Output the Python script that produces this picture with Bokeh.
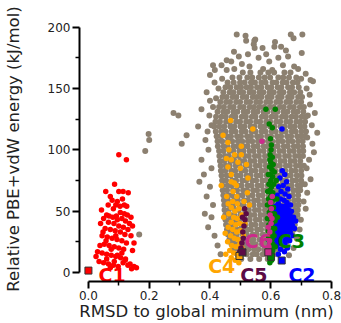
from bokeh.plotting import figure
from bokeh.models import FixedTicker, PrintfTickFormatter
from bokeh.core.properties import value
from bokeh.embed import file_html
from bokeh.resources import INLINE

# ---------------- data ----------------
# dense grey cloud, one row per energy level: (energy, RMSD values in 1/1000 nm)
gray_rows = [
    (163, [508, 533, 566, 592, 611, 645]),
    (159, [474, 497, 523, 539, 561, 580, 598, 625, 641, 660, 684]),
    (155, [458, 478, 499, 514, 535, 548, 569, 583, 606, 618, 639, 652, 673, 688]),
    (151, [451, 467, 488, 502, 521, 535, 555, 569, 590, 602, 623, 635, 657, 670, 692]),
    (147, [444, 465, 477, 497, 509, 530, 543, 563, 576, 596, 610, 630, 642, 663, 677, 697]),
    (143, [441, 455, 475, 487, 508, 520, 541, 554, 570, 590, 603, 624, 636, 657, 669, 690, 703]),
    (139, [434, 453, 466, 486, 499, 520, 532, 552, 565, 585, 598, 618, 631, 651, 664, 684, 700]),
    (135, [430, 446, 466, 478, 499, 511, 531, 545, 563, 578, 597, 610, 630, 643, 663, 676, 696, 709]),
    (131, [425, 444, 457, 477, 490, 511, 523, 543, 556, 576, 589, 609, 622, 642, 655, 675, 688, 707]),
    (127, [420, 438, 452, 472, 484, 505, 518, 538, 550, 571, 584, 603, 617, 637, 650, 669, 683, 702, 715]),
    (123, [418, 433, 453, 466, 486, 499, 519, 532, 552, 565, 585, 598, 618, 631, 651, 664, 684, 697, 713]),
    (119, [414, 431, 447, 467, 480, 500, 513, 533, 546, 566, 579, 598, 612, 632, 645, 664, 678, 697, 711]),
    (115, [419, 437, 451, 471, 484, 504, 517, 537, 550, 570, 583, 603, 616, 636, 649, 669, 682, 701, 716]),
    (111, [422, 436, 456, 469, 489, 502, 522, 535, 555, 568, 588, 601, 621, 634, 654, 667, 687, 700, 713]),
    (107, [425, 440, 459, 473, 492, 506, 525, 539, 558, 572, 591, 605, 624, 638, 657, 671, 690, 705]),
    (103, [426, 445, 458, 478, 491, 511, 524, 544, 557, 577, 590, 610, 623, 643, 656, 676, 689, 706]),
    (99, [430, 444, 464, 477, 497, 510, 530, 543, 563, 576, 596, 609, 629, 642, 662, 675, 694, 707]),
    (95, [431, 449, 462, 482, 495, 515, 528, 548, 561, 581, 594, 614, 627, 647, 660, 680, 693, 706]),
    (91, [433, 447, 467, 480, 500, 513, 533, 546, 566, 579, 599, 612, 632, 645, 665, 678, 697]),
    (87, [435, 452, 465, 485, 498, 518, 531, 551, 564, 584, 597, 617, 630, 650, 663, 683, 696, 709]),
    (83, [436, 450, 470, 483, 503, 516, 536, 549, 569, 582, 602, 615, 635, 648, 668, 681, 700]),
    (79, [438, 455, 468, 488, 501, 521, 534, 554, 567, 587, 600, 620, 633, 653, 666, 686, 701]),
    (75, [440, 453, 473, 486, 506, 519, 539, 552, 572, 585, 605, 618, 638, 651, 671, 684, 700]),
    (71, [441, 458, 471, 491, 504, 524, 537, 557, 570, 590, 603, 623, 636, 656, 669, 689, 698]),
    (67, [442, 456, 476, 489, 509, 522, 542, 555, 575, 588, 608, 621, 641, 654, 674, 687, 697]),
    (63, [444, 461, 474, 494, 507, 527, 540, 560, 573, 593, 606, 626, 639, 659, 672, 690]),
    (59, [446, 459, 479, 492, 512, 525, 545, 558, 578, 591, 611, 624, 644, 657, 677, 691]),
    (55, [447, 464, 477, 497, 510, 530, 543, 563, 576, 596, 609, 629, 642, 662, 675, 691]),
    (51, [448, 462, 482, 495, 515, 528, 548, 561, 581, 594, 614, 627, 647, 660, 680, 689]),
    (47, [450, 467, 480, 500, 513, 533, 546, 566, 579, 599, 612, 632, 645, 665, 679, 688]),
    (43, [451, 465, 485, 498, 518, 531, 551, 564, 584, 597, 617, 630, 650, 663, 681]),
    (39, [453, 470, 483, 503, 516, 536, 549, 569, 582, 602, 615, 635, 648, 666, 679]),
    (35, [456, 469, 489, 502, 522, 535, 555, 568, 588, 601, 621, 634, 654, 667, 677]),
    (31, [459, 475, 488, 508, 521, 541, 554, 574, 587, 607, 620, 640, 653, 671]),
    (27, [464, 477, 497, 510, 530, 543, 563, 576, 596, 609, 629, 642, 661]),
    (23, [471, 485, 505, 518, 538, 551, 571, 584, 604, 617, 637, 651]),
    (19, [479, 494, 512, 526, 545, 559, 578, 592, 611, 625, 641]),
    (15, [490, 507, 521, 541, 554, 574, 587, 606, 621]),
    (11, [503, 533, 562, 590]),
]

# sparse grey points around the cloud (RMSD nm, energy kJ/mol)
gray_sparse_x = [0.488, 0.517, 0.519, 0.549, 0.544, 0.547, 0.666, 0.704, 0.675, 0.702, 0.479, 0.455,
                 0.470, 0.438, 0.410, 0.614, 0.634, 0.650, 0.612, 0.573, 0.546, 0.657, 0.677, 0.731,
                 0.718, 0.739, 0.715, 0.400, 0.416, 0.495, 0.505, 0.525, 0.560, 0.585, 0.595, 0.625,
                 0.640, 0.665, 0.690, 0.700, 0.455, 0.480, 0.530, 0.575, 0.605, 0.440, 0.428, 0.415,
                 0.389, 0.400,
                 0.372, 0.361, 0.385, 0.372, 0.365, 0.389, 0.383, 0.394, 0.398, 0.405, 0.395, 0.405,
                 0.400, 0.410, 0.405, 0.415, 0.425, 0.435, 0.380, 0.392, 0.410, 0.420,
                 0.753, 0.737, 0.726, 0.731, 0.720, 0.715, 0.699, 0.729, 0.722, 0.735, 0.742, 0.718,
                 0.712, 0.708, 0.695, 0.685, 0.675, 0.660, 0.728, 0.720, 0.745,
                 0.280, 0.296, 0.323, 0.307, 0.198, 0.200, 0.187, 0.167]
gray_sparse_y = [194, 193, 189, 190, 186, 183, 194, 194, 191, 179, 180, 173,
                 172, 169, 169, 188, 184, 181, 184, 183, 189, 176, 168, 157,
                 150, 156, 162, 161, 165, 176, 170, 178, 175, 178, 172, 175,
                 169, 163, 166, 158, 165, 166, 168, 166, 165, 158, 150, 155,
                 147, 140,
                 133, 119, 108, 92, 74, 62, 48, 37, 128, 120, 100, 85,
                 70, 55, 45, 30, 22, 15, 80, 115, 135, 142,
                 114, 105, 92, 76, 65, 52, 43, 137, 128, 120, 98, 85,
                 72, 58, 35, 28, 20, 14, 145, 110, 130,
                 130, 128, 112, 105, 113, 108, 99, 31]

# C1 (red)
c1_x = [0.100, 0.125, 0.086, 0.057, 0.072, 0.078, 0.100, 0.114, 0.131, 0.090, 0.104, 0.118, 0.126,
        0.043, 0.060, 0.068, 0.080, 0.095, 0.110, 0.122, 0.135, 0.145, 0.050, 0.066, 0.084, 0.100,
        0.115, 0.130, 0.055, 0.072, 0.088, 0.105, 0.120, 0.140, 0.045, 0.062, 0.078, 0.094, 0.110,
        0.125, 0.038, 0.052, 0.068, 0.085, 0.100, 0.116, 0.145, 0.030, 0.045, 0.060, 0.075, 0.090,
        0.106, 0.122, 0.035, 0.050, 0.066, 0.082, 0.098, 0.114, 0.130, 0.150, 0.158, 0.137, 0.150,
        0.040, 0.105, 0.118, 0.082, 0.095, 0.112, 0.065, 0.090, 0.075, 0.058, 0.092, 0.060, 0.025,
        0.140, 0.128, 0.048, 0.110, 0.085, 0.072, 0.121, 0.142, 0.095]
c1_y = [96, 92, 72, 66, 62, 59, 66, 66, 65, 55, 54, 55, 54,
        51, 47, 46, 45, 43, 44, 42, 40, 38, 44, 41, 40, 38,
        37, 35, 36, 35, 34, 33, 31, 30, 30, 29, 28, 27, 26,
        24, 22, 23, 22, 21, 20, 19, 18, 17, 16, 15, 14, 13,
        12, 11, 9, 8, 7, 6, 5, 8, 6, 5, 4, 7, 24,
        40, 49, 48, 52, 58, 60, 55, 30, 19, 26, 46, 11, 13,
        45, 47, 33, 16, 9, 4, 10, 3, 14]

# C2 (blue)
c2_x = [0.637, 0.638, 0.646, 0.630, 0.652, 0.641, 0.626, 0.656, 0.634, 0.647, 0.621, 0.660, 0.632,
        0.644, 0.653, 0.625, 0.616, 0.668, 0.675, 0.682, 0.678, 0.670, 0.662, 0.655, 0.645, 0.632,
        0.620, 0.612, 0.625, 0.640, 0.665, 0.610, 0.672]
c2_y = [117, 83, 80, 77, 74, 71, 70, 68, 66, 64, 63, 62, 60,
        59, 57, 56, 54, 50, 45, 42, 36, 30, 26, 20, 17, 19,
        22, 28, 15, 24, 55, 40, 38]
c2_rows = [
    (54, [618, 627, 636, 645, 654]),
    (51, [614, 622, 631, 640, 649, 658]),
    (48, [612, 620, 629, 638, 646, 655, 663]),
    (45, [611, 619, 628, 636, 645, 653, 662, 669]),
    (42, [610, 618, 627, 635, 644, 652, 661, 668]),
    (39, [611, 619, 628, 636, 645, 653, 662, 670]),
    (36, [612, 620, 629, 637, 646, 654, 663]),
    (33, [613, 621, 630, 638, 647, 655, 664]),
    (30, [615, 623, 632, 640, 649, 657]),
    (27, [617, 626, 634, 643, 651, 659]),
    (24, [620, 629, 638, 647]),
]

# C3 (green)
c3_x = [0.584, 0.615, 0.599, 0.601, 0.598, 0.605, 0.600, 0.596, 0.604, 0.598, 0.606, 0.600, 0.594,
        0.603, 0.598, 0.607, 0.600, 0.593, 0.604, 0.598, 0.609, 0.600, 0.595, 0.604, 0.598, 0.608,
        0.600, 0.594, 0.603, 0.597, 0.606, 0.600, 0.593, 0.604, 0.598, 0.607, 0.600, 0.595, 0.604,
        0.598, 0.603, 0.597, 0.610, 0.612, 0.590, 0.589, 0.612, 0.591, 0.613, 0.602, 0.597, 0.608,
        0.592, 0.612, 0.589, 0.611, 0.605, 0.595, 0.603, 0.599, 0.604, 0.599, 0.601, 0.606, 0.592,
        0.614, 0.615, 0.620, 0.622, 0.618]
c3_y = [133, 133, 109, 100, 96, 94, 90, 86, 84, 80, 78, 75, 72,
        70, 67, 65, 62, 60, 58, 55, 53, 51, 49, 47, 45, 43,
        41, 39, 37, 35, 33, 31, 29, 27, 25, 23, 21, 19, 17,
        15, 10, 8, 72, 60, 66, 44, 48, 27, 36, 104, 92, 88,
        80, 82, 55, 30, 118, 121, 64, 58, 40, 36, 24, 18, 34,
        42, 21, 60, 45, 75]

# C4 (orange)
c4_x = [0.468, 0.443, 0.541, 0.459, 0.503, 0.481, 0.503, 0.454, 0.470, 0.492, 0.459, 0.437, 0.470,
        0.487, 0.525, 0.523, 0.470, 0.480, 0.455, 0.475, 0.490, 0.470, 0.482, 0.495, 0.462, 0.478,
        0.490, 0.505, 0.470, 0.485, 0.498, 0.460, 0.475, 0.488, 0.500, 0.468, 0.480, 0.492, 0.458,
        0.472, 0.485, 0.498, 0.465, 0.478, 0.490, 0.470, 0.483, 0.495, 0.450, 0.445, 0.510, 0.512,
        0.530, 0.515, 0.460, 0.452, 0.505, 0.488, 0.476, 0.500, 0.462, 0.520]
c4_y = [124, 112, 117, 106, 103, 96, 96, 93, 92, 90, 86, 71, 74,
        71, 77, 65, 80, 73, 62, 58, 56, 53, 50, 52, 48, 45,
        44, 47, 41, 39, 40, 37, 35, 33, 34, 30, 28, 27, 25,
        22, 21, 23, 18, 16, 15, 12, 10, 8, 32, 45, 30, 58,
        55, 40, 56, 15, 20, 62, 66, 85, 100, 88]

# C5 (dark purple)
c5_x = [0.519, 0.515, 0.512, 0.508, 0.510, 0.505, 0.502, 0.498, 0.514, 0.507]
c5_y = [48, 43, 38, 33, 28, 24, 20, 17, 52, 45]

# C6 (magenta)
c6_x = [0.571, 0.600, 0.602, 0.598, 0.601, 0.597, 0.596, 0.594, 0.604, 0.592, 0.605]
c6_y = [107, 57, 52, 47, 40, 33, 26, 21, 44, 37, 62]

# global minimum of each cluster (square markers) and labels
cluster_names = ["C1", "C2", "C3", "C4", "C5", "C6"]
cluster_colors = ["#ff0000", "#0000ff", "#008000", "#ffa500", "#5c0b46", "#cc2b8c"]
min_x = [0.0, 0.636, 0.601, 0.497, 0.507, 0.592]
min_y = [1.6, 9.8, 12.8, 13.5, 16.5, 16.5]
label_x = [0.033, 0.658, 0.623, 0.394, 0.500, 0.514]
label_y = [-1.6, -1.6, 25.4, 5.1, -1.6, 25.4]

x_ticks = [0.0, 0.2, 0.4, 0.6, 0.8]
x_minor = [0.1, 0.3, 0.5, 0.7]
y_ticks = [0, 50, 100, 150, 200]
y_minor = [25, 75, 125, 175]

x_label = "RMSD to global minimum (nm)"
y_label = "Relative PBE+vdW energy (kJ/mol)"

# ---------------- figure ----------------
FONT = "DejaVu Sans"
p = figure(width=341, height=323, x_range=(-0.0294, 0.8065), y_range=(-7.3, 208.7),
           output_backend="svg", toolbar_location=None,
           min_border_left=77, min_border_right=8, min_border_top=16, min_border_bottom=41)
p.outline_line_color = None
p.xgrid.visible = False
p.ygrid.visible = False

for ax, ticks, minor, bnds, lab in ((p.xaxis[0], x_ticks, x_minor, (0, 0.8), x_label),
                                    (p.yaxis[0], y_ticks, y_minor, (0, 200), y_label)):
    ax.ticker = FixedTicker(ticks=ticks, minor_ticks=minor)
    ax.bounds = bnds
    ax.axis_line_width = 2
    ax.axis_line_color = "black"
    ax.major_tick_out = 7
    ax.major_tick_in = 0
    ax.minor_tick_out = 4
    ax.minor_tick_in = 0
    ax.major_tick_line_width = 2
    ax.minor_tick_line_width = 1.5
    ax.major_label_text_font = FONT
    ax.major_label_text_font_size = "12px"
    ax.major_label_text_color = "#222222"
    ax.major_label_standoff = 2
    ax.axis_label = lab
    ax.axis_label_text_font = FONT
    ax.axis_label_text_font_size = "16.5px"
    ax.axis_label_text_font_style = "normal"
    ax.axis_label_text_color = "#222222"
p.xaxis.formatter = PrintfTickFormatter(format="%.1f")
p.xaxis.axis_label_standoff = -1
p.yaxis.axis_label_standoff = 22

gx, gy = [], []
for yv, xs in gray_rows:
    for xv in xs:
        gx.append(xv / 1000)
        gy.append(yv)
gx += gray_sparse_x
gy += gray_sparse_y

bx, by = list(c2_x), list(c2_y)
for yv, xs in c2_rows:
    for xv in xs:
        bx.append(xv / 1000)
        by.append(yv)

S = 5.5
p.scatter(gx, gy, size=6, color="#8c8070", line_color=None)
p.scatter(c1_x, c1_y, size=S, color=cluster_colors[0], line_color=None)
p.scatter(bx, by, size=S, color=cluster_colors[1], line_color=None)
p.scatter(c3_x, c3_y, size=S, color=cluster_colors[2], line_color=None)
p.scatter(c4_x, c4_y, size=S, color=cluster_colors[3], line_color=None)
p.scatter(c5_x, c5_y, size=S, color=cluster_colors[4], line_color=None)
p.scatter(c6_x, c6_y, size=S, color=cluster_colors[5], line_color=None)

p.scatter(min_x, min_y, marker="square", size=7,
          fill_color=cluster_colors, line_color="#333333", line_width=1)

p.text(x=label_x, y=label_y, text=cluster_names, text_color=cluster_colors,
       text_font=value(FONT), text_font_style="bold", text_font_size="19px",
       text_align="left", text_baseline="alphabetic")

open("out.html", "w").write(file_html(p, INLINE))
